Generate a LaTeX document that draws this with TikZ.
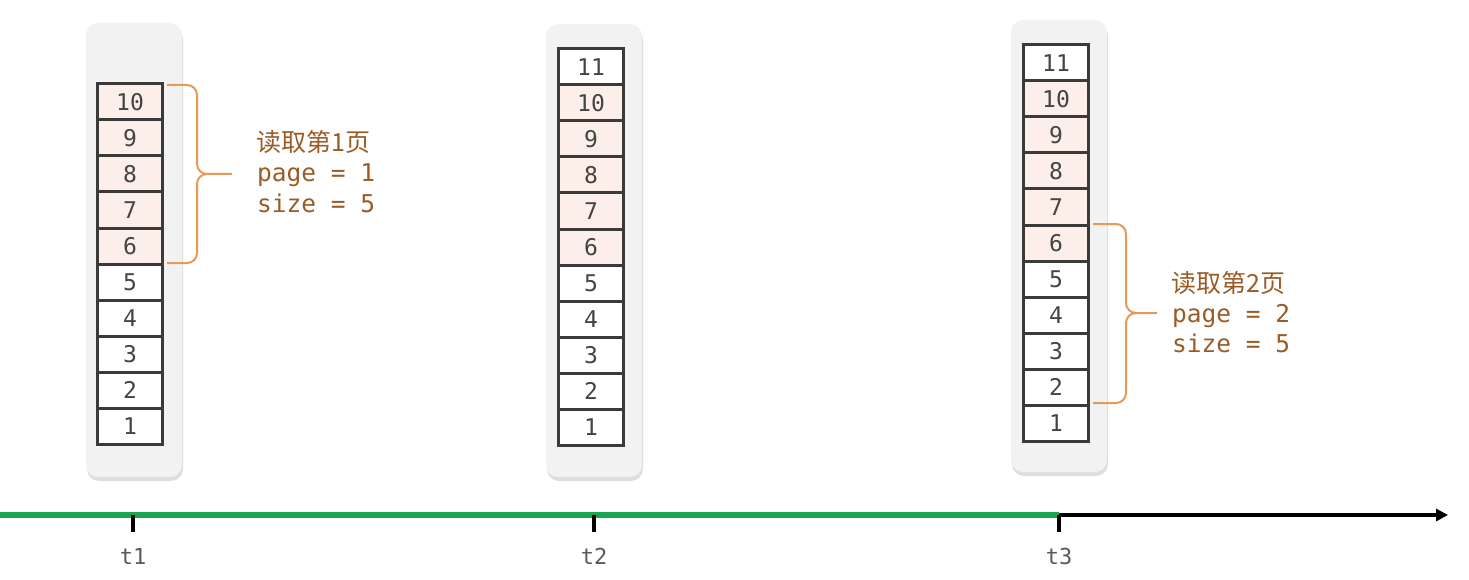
\documentclass[tikz,border=0pt]{standalone}
\usepackage{fontspec}
\setmonofont{DejaVu Sans Mono}
\newfontfamily\cjk{Noto Sans CJK SC}
\usetikzlibrary{arrows.meta}
\definecolor{cellborder}{HTML}{3A3A3A}
\definecolor{cellhi}{HTML}{FCEEE8}
\definecolor{panelfill}{HTML}{F2F2F2}
\definecolor{panelshadow}{HTML}{C8C8C8}
\definecolor{bracecol}{HTML}{E69A55}
\definecolor{notecol}{HTML}{9A5B27}
\definecolor{axisgreen}{HTML}{1BA553}
\definecolor{numcol}{HTML}{444444}
\definecolor{tcol}{HTML}{5A5A5A}
\tikzset{
  cellbox/.style={draw=cellborder, line width=3pt, fill=white, minimum width=65pt, minimum height=36pt, inner sep=0pt, font=\ttfamily\fontsize{23}{23}\selectfont, text=numcol},
  hicell/.style={cellbox, fill=cellhi},
  panelbox/.style={fill=panelfill, rounded corners=12pt},
  shadowbox/.style={fill=panelshadow, rounded corners=12pt, opacity=0.6},
  bracestyle/.style={draw=bracecol, line width=2pt},
  notetext/.style={anchor=base west, inner sep=0pt, text=notecol, font=\ttfamily\fontsize{24.5}{24.5}\selectfont},
  notecjk/.style={anchor=base west, inner sep=0pt, text=notecol, font=\cjk\fontsize{25}{25}\selectfont},
  tlabel/.style={anchor=base, inner sep=0pt, text=tcol, font=\ttfamily\fontsize{22}{22}\selectfont},
  tickline/.style={line width=3.5pt, black},
}
\begin{document}
\begin{tikzpicture}[x=1pt,y=-1pt]
\useasboundingbox (0,0) rectangle (1469,580);
% panels
\foreach \l/\t/\r/\b in {86/23/182/477, 546/24/642/477, 1011/20/1107/472}{
  \fill[shadowbox] (\l+1,\t+4) rectangle (\r+1,\b+4);
  \fill[panelbox] (\l,\t) rectangle (\r,\b);
}
% column 1
\foreach \k in {1,...,10}{
  \ifnum\k>5
    \node[hicell] (a\k) at (130,{444-36*(\k-0.5)}) {\k};
  \else
    \node[cellbox] (a\k) at (130,{444-36*(\k-0.5)}) {\k};
  \fi
}
% column 2
\foreach \k in {1,...,11}{
  \ifnum\k>5 \ifnum\k<11
    \node[hicell] (b\k) at (591,{445-36*(\k-0.5)}) {\k};
  \else
    \node[cellbox] (b\k) at (591,{445-36*(\k-0.5)}) {\k};
  \fi\else
    \node[cellbox] (b\k) at (591,{445-36*(\k-0.5)}) {\k};
  \fi
}
% column 3
\foreach \k in {1,...,11}{
  \ifnum\k>5 \ifnum\k<11
    \node[hicell] (c\k) at (1056,{441-36*(\k-0.5)}) {\k};
  \else
    \node[cellbox] (c\k) at (1056,{441-36*(\k-0.5)}) {\k};
  \fi\else
    \node[cellbox] (c\k) at (1056,{441-36*(\k-0.5)}) {\k};
  \fi
}
% brace 1
\coordinate (br1top) at (167,85);
\coordinate (br1bot) at (167,263);
\coordinate (br1tip) at (232,174);
\draw[bracestyle] (br1top) -- (187,85) to[out=0,in=90] (197,95) -- (197,164) to[out=-90,in=180] (207,174) -- (br1tip);
\draw[bracestyle] (br1bot) -- (187,263) to[out=0,in=-90] (197,253) -- (197,184) to[out=90,in=180] (207,174);
\node[notecjk] (n1a) at (256,152) {读取第1页};
\node[notetext] (n1b) at (257,182) {page = 1};
\node[notetext] (n1c) at (257,212) {size = 5};
% brace 2
\coordinate (br2top) at (1093,224);
\coordinate (br2bot) at (1093,403);
\coordinate (br2tip) at (1157,313);
\draw[bracestyle] (br2top) -- (1116,224) to[out=0,in=90] (1126,234) -- (1126,303) to[out=-90,in=180] (1136,313) -- (br2tip);
\draw[bracestyle] (br2bot) -- (1116,403) to[out=0,in=-90] (1126,393) -- (1126,323) to[out=90,in=180] (1136,313);
\node[notecjk] (n2a) at (1171,292) {读取第2页};
\node[notetext] (n2b) at (1172,322) {page = 2};
\node[notetext] (n2c) at (1172,352) {size = 5};
% axis
\coordinate (ax0) at (0,515);
\coordinate (t1) at (133,515);
\coordinate (t2) at (594,515);
\coordinate (t3) at (1059,515);
\coordinate (axend) at (1448,515);
\draw[line width=3.5pt, -{Triangle[length=12pt,width=12pt]}] (t3) -- (axend);
\draw[line width=6pt, axisgreen] (ax0) -- (t3);
\foreach \p in {t1,t2,t3}{
  \draw[tickline] (\p) -- ++(0,17);
}
\node[tlabel] (l1) at (133,564) {t1};
\node[tlabel] (l2) at (594,564) {t2};
\node[tlabel] (l3) at (1059,564) {t3};
\end{tikzpicture}
\end{document}
